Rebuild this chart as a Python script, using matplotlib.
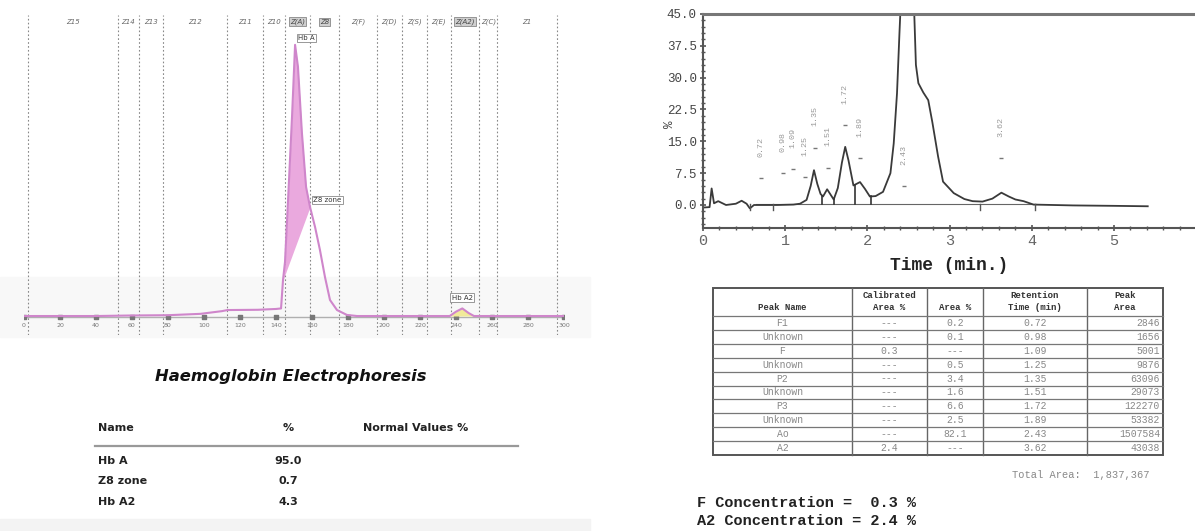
import numpy as np
import matplotlib
matplotlib.use("Agg")
import matplotlib.pyplot as plt
from matplotlib.patches import Rectangle
from matplotlib.ticker import MultipleLocator

W, H = 1195, 531

# ---------------- Left panel: capillary electrophoresis ----------------
ce_x = [0, 20, 40, 60, 80, 98, 110, 113, 130, 140, 142.8, 143.9, 145.0, 146.7,
        148.9, 150.6, 152.2, 154.4, 156.7, 158.9, 161.7, 164.4, 167.2, 170.0,
        173.9, 179.4, 185, 200, 220, 236.5, 240, 243.5, 247, 250, 270, 300]
ce_y = [0, 0, 0, 0.2, 0.3, 0.8, 1.8, 2.2, 2.3, 2.6, 2.8, 13.3, 19.9, 42.8,
        73.4, 100, 91.9, 67.5, 47.6, 40.2, 32.8, 24.4, 14.4, 5.9,
        2.2, 0.4, 0, 0, 0, 0, 1.6, 2.8, 1.1, 0, 0, 0]
zone_bounds = [2, 52, 64, 77, 113, 133, 145, 159, 175, 196, 210, 224, 237, 253, 263, 296]
zone_labels = ["Z15", "Z14", "Z13", "Z12", "Z11", "Z10", "Z(A)", "Z8", "Z(F)",
               "Z(D)", "Z(S)", "Z(E)", "Z(A2)", "Z(C)", "Z1"]
boxed_zones = ["Z(A)", "Z8", "Z(A2)"]
ce_ticks = list(range(0, 301, 20))
hba_range = (143.9, 158.9)
a2_range = (236.5, 250.0)
ce_peak_names = ["Hb A", "Z8 zone", "Hb A2"]
ce_peak_pos = [(157, 102.5), (168.5, 42.8), (243.5, 6.8)]

res_names = ["Hb A", "Z8 zone", "Hb A2"]
res_pct = ["95.0", "0.7", "4.3"]

# ---------------- Right panel: HPLC chromatogram ----------------
chrom_t = [0.0, 0.08, 0.105, 0.134, 0.185, 0.28, 0.40, 0.47, 0.53, 0.57, 0.62,
           0.70, 0.90, 1.10, 1.18, 1.26, 1.31, 1.35, 1.39, 1.43, 1.46, 1.51,
           1.55, 1.59, 1.64, 1.69, 1.73, 1.77, 1.83, 1.91, 1.97, 2.03, 2.10,
           2.19, 2.28, 2.32, 2.36, 2.39, 2.40, 2.48, 2.57, 2.59, 2.62, 2.68,
           2.74, 2.79, 2.86, 2.92, 3.05, 3.18, 3.28, 3.40, 3.52, 3.63, 3.72,
           3.80, 3.90, 4.02, 4.5, 5.0, 5.41]
chrom_v = [-0.6, -0.5, 3.9, 0.4, 0.9, 0.0, 0.3, 1.0, 0.3, -0.8, 0.0,
           0.0, 0.0, 0.1, 0.3, 1.2, 4.5, 8.2, 5.0, 2.6, 2.0, 3.7,
           2.5, 1.3, 4.0, 10.0, 13.7, 10.5, 4.6, 5.4, 3.8, 2.0, 2.1,
           3.1, 7.5, 14.5, 26.3, 40.6, 45.0, 62.0, 45.0, 33.0, 28.7, 26.5,
           24.7, 19.5, 11.4, 5.5, 2.8, 1.4, 0.9, 0.8, 1.5, 2.9, 2.0,
           1.3, 0.9, 0.1, -0.1, -0.2, -0.3]
rt_labels = ["0.72", "0.98", "1.09", "1.25", "1.35", "1.51", "1.72", "1.89", "2.43", "3.62"]
rt_label_t = [0.71, 0.97, 1.10, 1.24, 1.36, 1.52, 1.73, 1.91, 2.44, 3.63]
rt_label_v = [11.4, 12.6, 13.5, 11.6, 18.5, 13.8, 23.9, 16.1, 9.4, 16.1]
valley_t = [1.45, 1.59, 1.85, 2.04]
mark_t = [0.57, 0.85, 3.37, 4.04]
y_ticks_r = [0, 7.5, 15, 22.5, 30, 37.5, 45]
x_ticks_r = [0, 1, 2, 3, 4, 5]

tbl_peak = ["F1", "Unknown", "F", "Unknown", "P2", "Unknown", "P3", "Unknown", "Ao", "A2"]
tbl_calib = ["---", "---", "0.3", "---", "---", "---", "---", "---", "---", "2.4"]
tbl_area = ["0.2", "0.1", "---", "0.5", "3.4", "1.6", "6.6", "2.5", "82.1", "---"]
tbl_rt = ["0.72", "0.98", "1.09", "1.25", "1.35", "1.51", "1.72", "1.89", "2.43", "3.62"]
tbl_parea = ["2846", "1656", "5001", "9876", "63096", "29073", "122270", "53382", "1507584", "43038"]
total_area = "1,837,367"
f_conc = "0.3"
a2_conc = "2.4"

MONO = "Liberation Mono"

fig = plt.figure(figsize=(W / 100, H / 100), dpi=100)
fig.patch.set_facecolor("white")

# overlay axes in pixel coordinates for text blocks / tables
ax0 = fig.add_axes([0, 0, 1, 1])
ax0.set_xlim(0, W)
ax0.set_ylim(H, 0)
ax0.axis("off")
ax0.add_patch(Rectangle((0, 277), 590, 60, color="#f8f8f8", zorder=0))
ax0.add_patch(Rectangle((0, 519), 590, 12, color="#f3f3f3", zorder=0))

# ---------- left chart ----------
ax1 = fig.add_axes([24 / W, (H - 335) / H, 540 / W, 320 / H])
ax1.set_facecolor("none")
ax1.set_xlim(0, 300)
ax1.set_ylim(-7, 111)
ax1.axis("off")

for b in zone_bounds:
    ax1.plot([b, b], [-7, 111], color="#888888", lw=0.8, ls=(0, (1.5, 2)), zorder=1)
for i, lab in enumerate(zone_labels):
    cx = 0.5 * (zone_bounds[i] + zone_bounds[i + 1])
    if lab in boxed_zones:
        ax1.text(cx, 108.5, lab, fontsize=5, style="italic", color="#444",
                 ha="center", va="center",
                 bbox=dict(boxstyle="square,pad=0.15", fc="#cfcfcf", ec="#888", lw=0.6))
    else:
        ax1.text(cx, 108.5, lab, fontsize=5, style="italic", color="#666",
                 ha="center", va="center")

ax1.plot([0, 300], [-0.3, -0.3], color="#b0b0b0", lw=1.0, zorder=2)
ax1.scatter(ce_ticks, [-0.3] * len(ce_ticks), s=5, marker="s", color="#777", zorder=3)
for t in ce_ticks:
    ax1.text(t, -3.4, str(t), fontsize=4.5, color="#777", ha="center", va="center")

xx = np.linspace(hba_range[0], hba_range[1], 200)
yy = np.interp(xx, ce_x, ce_y)
y0a, y0b = np.interp(hba_range[0], ce_x, ce_y), np.interp(hba_range[1], ce_x, ce_y)
base = y0a + (y0b - y0a) * (xx - hba_range[0]) / (hba_range[1] - hba_range[0])
ax1.fill_between(xx, base, yy, color="#eaa9de", lw=0, zorder=3)
xa = np.linspace(a2_range[0], a2_range[1], 100)
ax1.fill_between(xa, 0, np.interp(xa, ce_x, ce_y), color="#f1ea9a", lw=0, zorder=3)
ax1.plot(ce_x, ce_y, color="#cf86cb", lw=1.5, zorder=4)

for name, (px, py) in zip(ce_peak_names, ce_peak_pos):
    ax1.text(px, py, name, fontsize=5, color="#333", ha="center", va="center", zorder=5,
             bbox=dict(boxstyle="square,pad=0.2", fc="white", ec="#888", lw=0.6))

# left text block
ax0.text(291, 377, "Haemoglobin Electrophoresis", fontsize=11.8, fontweight="bold",
         style="italic", ha="center", va="center", color="#111")
ax0.text(98, 428, "Name", fontsize=8, fontweight="bold", ha="left", va="center", color="#222")
ax0.text(288, 428, "%", fontsize=8, fontweight="bold", ha="center", va="center", color="#222")
ax0.text(363, 428, "Normal Values %", fontsize=8, fontweight="bold", ha="left", va="center", color="#222")
ax0.plot([95, 518], [446, 446], color="#999", lw=1.6)
for i, (n, p) in enumerate(zip(res_names, res_pct)):
    yy_ = 461 + i * 20.5
    ax0.text(98, yy_, n, fontsize=8, fontweight="bold", ha="left", va="center", color="#222")
    ax0.text(288, yy_, p, fontsize=8, fontweight="bold", ha="center", va="center", color="#222")

# ---------- right chart ----------
ax2 = fig.add_axes([703 / W, (H - 228) / H, (W - 703) / W, 214 / H])
ax2.set_facecolor("none")
ax2.set_xlim(0, 5.985)
ax2.set_ylim(-5.42, 45)
for s in ["left", "bottom"]:
    ax2.spines[s].set_color("#555")
    ax2.spines[s].set_linewidth(1.5)
ax2.spines["top"].set_color("#777")
ax2.spines["top"].set_linewidth(2.2)
ax2.spines["right"].set_visible(False)
ax2.set_xticks(x_ticks_r)
ax2.set_yticks(y_ticks_r)
ax2.set_yticklabels([f"{v:.1f}" for v in y_ticks_r])
ax2.xaxis.set_minor_locator(MultipleLocator(0.2))
ax2.yaxis.set_minor_locator(MultipleLocator(1.5))
ax2.tick_params(axis="both", which="major", direction="inout", length=5, width=1.2, color="#555")
ax2.tick_params(axis="both", which="minor", direction="inout", length=3, width=1.0, color="#555")
ax2.tick_params(axis="x", which="major", labelsize=11, labelcolor="#666", pad=2)
ax2.tick_params(axis="y", which="major", labelsize=9, labelcolor="#444", pad=2)
for lab in ax2.get_xticklabels() + ax2.get_yticklabels():
    lab.set_fontfamily(MONO)
ax2.set_ylabel("%", fontfamily=MONO, fontsize=9, color="#444")
ax2.yaxis.set_label_coords((676 - 703) / (W - 703), (228 - 124) / 214)
ax2.set_xlabel("Time (min.)", fontfamily=MONO, fontsize=13, fontweight="bold",
               color="#222", labelpad=6)

ax2.plot([0.65, 4.05], [0.2, 0.2], color="#666", lw=0.8)
ax2.plot(chrom_t, chrom_v, color="#3a3a3a", lw=1.3)
for t in valley_t:
    ax2.plot([t, t], [0.2, np.interp(t, chrom_t, chrom_v)], color="#333", lw=1.2)
for t in mark_t:
    ax2.plot([t, t], [-1.2, 0.3], color="#555", lw=1.0)
for lab, t, v in zip(rt_labels, rt_label_t, rt_label_v):
    ax2.text(t, v, lab, rotation=90, fontfamily=MONO, fontsize=6, color="#999",
             ha="center", va="bottom")
    ax2.plot([t], [v - 5], marker="_", ms=3, color="#777")

# right table
col_edges = [713, 852, 927, 983, 1087, 1163]
top, hdr_bot, row_h = 288, 316, 13.9
nrows = len(tbl_peak)
bot = hdr_bot + nrows * row_h
ax0.add_patch(Rectangle((col_edges[0], top), col_edges[-1] - col_edges[0], bot - top,
                        fill=False, ec="#555", lw=1.4))
for x in col_edges[1:-1]:
    ax0.plot([x, x], [top, bot], color="#666", lw=1.0)
for i in range(nrows):
    y = hdr_bot + i * row_h
    ax0.plot([col_edges[0], col_edges[-1]], [y, y], color="#777", lw=0.9)
hdr_fs = 6.5
cc = [0.5 * (col_edges[i] + col_edges[i + 1]) for i in range(5)]
ax0.text(cc[0], 307, "Peak Name", fontfamily=MONO, fontsize=hdr_fs, fontweight="bold",
         ha="center", va="center", color="#333")
ax0.text(cc[1], 295, "Calibrated", fontfamily=MONO, fontsize=hdr_fs, fontweight="bold",
         ha="center", va="center", color="#333")
ax0.text(cc[1], 307, "Area %", fontfamily=MONO, fontsize=hdr_fs, fontweight="bold",
         ha="center", va="center", color="#333")
ax0.text(cc[2], 307, "Area %", fontfamily=MONO, fontsize=hdr_fs, fontweight="bold",
         ha="center", va="center", color="#333")
ax0.text(cc[3], 295, "Retention", fontfamily=MONO, fontsize=hdr_fs, fontweight="bold",
         ha="center", va="center", color="#333")
ax0.text(cc[3], 307, "Time (min)", fontfamily=MONO, fontsize=hdr_fs, fontweight="bold",
         ha="center", va="center", color="#333")
ax0.text(cc[4], 295, "Peak", fontfamily=MONO, fontsize=hdr_fs, fontweight="bold",
         ha="center", va="center", color="#333")
ax0.text(cc[4], 307, "Area", fontfamily=MONO, fontsize=hdr_fs, fontweight="bold",
         ha="center", va="center", color="#333")
row_fs = 7
for i in range(nrows):
    y = hdr_bot + (i + 0.5) * row_h
    ax0.text(cc[0], y, tbl_peak[i], fontfamily=MONO, fontsize=row_fs, ha="center", va="center", color="#888")
    ax0.text(cc[1], y, tbl_calib[i], fontfamily=MONO, fontsize=row_fs, ha="center", va="center", color="#888")
    ax0.text(cc[2], y, tbl_area[i], fontfamily=MONO, fontsize=row_fs, ha="center", va="center", color="#888")
    ax0.text(cc[3], y, tbl_rt[i], fontfamily=MONO, fontsize=row_fs, ha="center", va="center", color="#888")
    ax0.text(col_edges[5] - 3, y, tbl_parea[i], fontfamily=MONO, fontsize=row_fs, ha="right", va="center", color="#888")

ax0.text(1012, 475, "Total Area:  " + total_area, fontfamily=MONO, fontsize=7.5,
         ha="left", va="center", color="#888")
ax0.text(697, 503, "F Concentration =  " + f_conc + " %", fontfamily=MONO, fontsize=11,
         fontweight="bold", ha="left", va="center", color="#222")
ax0.text(697, 521, "A2 Concentration = " + a2_conc + " %", fontfamily=MONO, fontsize=11,
         fontweight="bold", ha="left", va="center", color="#222")

fig.savefig("out.png", dpi=100, facecolor="white")
